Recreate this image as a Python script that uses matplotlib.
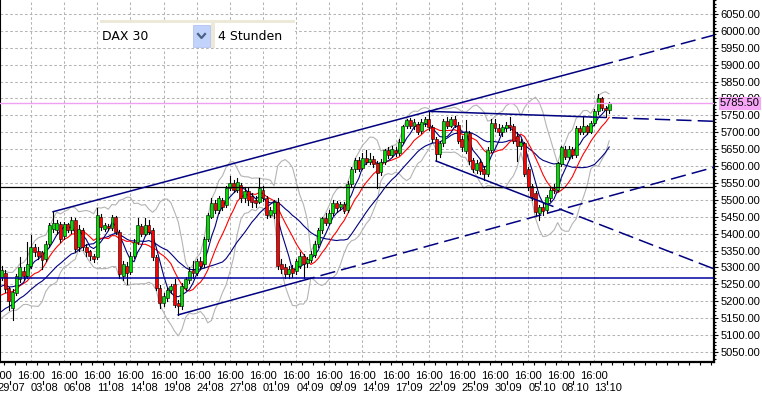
import numpy as np
import pandas as pd
import matplotlib
matplotlib.use('Agg')
import matplotlib.pyplot as plt
from matplotlib.patches import Rectangle

# DAX 30, 4h candles 29.07.2009 - 14.10.2009
opens = [5272, 5285, 5238, 5180, 5225, 5265, 5290, 5275, 5305, 5360,
         5350, 5345, 5325, 5368, 5415, 5410, 5430, 5392, 5428, 5410,
         5440, 5360, 5412, 5360, 5348, 5335, 5330, 5450, 5415, 5424,
         5418, 5448, 5405, 5275, 5305, 5288, 5335, 5375, 5422, 5400,
         5425, 5410, 5330, 5240, 5195, 5210, 5232, 5250, 5195, 5185,
         5240, 5262, 5292, 5285, 5318, 5310, 5385, 5450, 5490, 5470,
         5500, 5485, 5535, 5550, 5530, 5545, 5505, 5525, 5510, 5500,
         5495, 5530, 5505, 5455, 5460, 5495, 5310, 5300, 5280, 5298,
         5290, 5305, 5335, 5312, 5322, 5338, 5368, 5410, 5445, 5432,
         5462, 5490, 5478, 5488, 5470, 5548, 5590, 5618, 5595, 5625,
         5612, 5622, 5610, 5582, 5612, 5648, 5632, 5648, 5638, 5672,
         5718, 5735, 5718, 5725, 5705, 5728, 5738, 5715, 5680, 5635,
         5668, 5732, 5720, 5740, 5722, 5680, 5645, 5698, 5618, 5588,
         5612, 5590, 5578, 5648, 5728, 5712, 5700, 5712, 5722, 5718,
         5690, 5658, 5668, 5590, 5542, 5520, 5462, 5480, 5470, 5505,
         5535, 5530, 5605, 5650, 5628, 5650, 5632, 5712, 5700, 5718,
         5702, 5728, 5762, 5800, 5772, 5765]
highs = [5305, 5292, 5242, 5235, 5282, 5330, 5300, 5375, 5395, 5370,
         5360, 5350, 5378, 5432, 5465, 5440, 5435, 5435, 5432, 5448,
         5445, 5425, 5418, 5370, 5352, 5340, 5475, 5458, 5432, 5430,
         5455, 5452, 5410, 5318, 5315, 5345, 5385, 5445, 5430, 5445,
         5440, 5418, 5338, 5248, 5225, 5240, 5250, 5265, 5205, 5255,
         5272, 5300, 5318, 5325, 5330, 5390, 5462, 5505, 5500, 5510,
         5505, 5542, 5570, 5560, 5565, 5550, 5535, 5535, 5520, 5512,
         5565, 5540, 5510, 5480, 5500, 5505, 5325, 5310, 5305, 5308,
         5325, 5345, 5340, 5330, 5348, 5378, 5418, 5450, 5460, 5470,
         5500, 5498, 5495, 5495, 5555, 5598, 5625, 5628, 5640, 5648,
         5640, 5630, 5615, 5620, 5652, 5655, 5658, 5655, 5680, 5722,
         5740, 5742, 5738, 5730, 5738, 5745, 5762, 5722, 5685, 5675,
         5738, 5745, 5745, 5748, 5730, 5690, 5735, 5705, 5625, 5618,
         5620, 5600, 5655, 5738, 5738, 5725, 5722, 5730, 5745, 5725,
         5700, 5680, 5672, 5598, 5548, 5525, 5485, 5490, 5515, 5538,
         5548, 5612, 5660, 5660, 5658, 5655, 5718, 5720, 5745, 5722,
         5732, 5768, 5812, 5805, 5778, 5790]
lows = [5262, 5228, 5174, 5145, 5218, 5258, 5262, 5268, 5298, 5335,
        5325, 5295, 5320, 5362, 5405, 5400, 5375, 5385, 5405, 5402,
        5345, 5350, 5352, 5335, 5322, 5316, 5325, 5412, 5408, 5410,
        5412, 5398, 5270, 5262, 5250, 5282, 5328, 5370, 5392, 5395,
        5398, 5322, 5232, 5180, 5185, 5200, 5225, 5182, 5160, 5178,
        5232, 5255, 5270, 5278, 5295, 5300, 5378, 5445, 5462, 5462,
        5470, 5478, 5528, 5522, 5522, 5495, 5495, 5485, 5480, 5480,
        5490, 5498, 5445, 5448, 5445, 5295, 5285, 5270, 5270, 5272,
        5282, 5298, 5270, 5300, 5315, 5330, 5360, 5402, 5425, 5428,
        5455, 5465, 5470, 5460, 5465, 5540, 5582, 5585, 5590, 5605,
        5605, 5598, 5535, 5575, 5605, 5625, 5628, 5630, 5632, 5668,
        5712, 5712, 5710, 5695, 5698, 5720, 5708, 5672, 5615, 5628,
        5660, 5712, 5715, 5715, 5668, 5645, 5640, 5605, 5582, 5580,
        5578, 5560, 5572, 5642, 5705, 5692, 5690, 5705, 5708, 5668,
        5615, 5650, 5570, 5530, 5500, 5455, 5440, 5455, 5462, 5498,
        5520, 5525, 5600, 5620, 5620, 5625, 5628, 5695, 5695, 5695,
        5698, 5722, 5755, 5765, 5745, 5758]
closes = [5292, 5235, 5200, 5228, 5275, 5300, 5275, 5310, 5360, 5345,
          5335, 5322, 5370, 5425, 5432, 5432, 5385, 5428, 5412, 5440,
          5355, 5415, 5360, 5345, 5335, 5325, 5455, 5420, 5425, 5418,
          5448, 5405, 5280, 5310, 5285, 5335, 5375, 5425, 5400, 5425,
          5405, 5330, 5240, 5195, 5215, 5232, 5245, 5190, 5185, 5245,
          5265, 5290, 5285, 5318, 5305, 5385, 5455, 5490, 5470, 5505,
          5480, 5535, 5550, 5530, 5552, 5505, 5525, 5500, 5495, 5490,
          5535, 5505, 5455, 5470, 5495, 5305, 5295, 5280, 5295, 5285,
          5318, 5335, 5310, 5325, 5340, 5370, 5410, 5445, 5432, 5462,
          5492, 5475, 5488, 5468, 5548, 5592, 5618, 5592, 5625, 5612,
          5622, 5605, 5580, 5612, 5648, 5632, 5650, 5638, 5672, 5718,
          5735, 5720, 5730, 5702, 5730, 5738, 5715, 5680, 5635, 5668,
          5732, 5720, 5738, 5722, 5675, 5655, 5700, 5615, 5590, 5610,
          5585, 5578, 5648, 5728, 5712, 5700, 5715, 5722, 5715, 5675,
          5658, 5672, 5578, 5538, 5508, 5465, 5478, 5468, 5508, 5530,
          5528, 5608, 5655, 5628, 5650, 5632, 5712, 5700, 5718, 5702,
          5728, 5762, 5800, 5772, 5765, 5785.5]
# closes of the bars left of the visible window, only for the averages
pre_close = [5060, 5085, 5100, 5090, 5120, 5140, 5130, 5150, 5170, 5160,
             5185, 5175, 5200, 5215, 5190, 5210, 5235, 5225, 5260]

time_label = '16:00'
dates = ['29.07', '03.08', '06.08', '11.08', '14.08', '19.08', '24.08',
         '27.08', '01.09', '04.09', '09.09', '14.09', '17.09', '22.09',
         '25.09', '30.09', '05.10', '08.10', '13.10']
bid = 5785.5
hline_black = 5538
hline_blue = 5268
# trend lines: two anchors (bar, price), bar where the solid part stops
upper_ch = [(14, 5465), (116, 5762), 162]
lower_ch = [(48, 5160), (82, 5262), 81]
top_flat = [(116, 5762), (158, 5746), 160]
down_ch = [(118, 5615), (131, 5560), 146]

W, H = 762, 401
fig = plt.figure(figsize=(W/100, H/100), dpi=100)
fig.patch.set_facecolor('white')
ax = fig.add_axes([0, (H-362)/H, 714/W, 362/H])
n = len(closes)
t = np.arange(n)
xmin, xmax = -1.5/3.683, (714-1.5)/3.683
ax.set_xlim(xmin, xmax)
ax.set_ylim(5020.3, 6091.4)

# grid
grid_kw = dict(color='#b4b4b4', lw=0.75, dashes=(2.5, 2.2), zorder=0)
for v in range(5050, 6100, 50):
    ax.axhline(v, **grid_kw)
ticks = [9*k - 1 for k in range(len(dates))]
for x in ticks:
    ax.axvline(x, **grid_kw)

# indicators
allc = pd.Series(pre_close + closes, dtype=float)
n0 = len(pre_close)
ma5 = allc.rolling(5).mean().iloc[n0:].to_numpy()
ma10 = allc.rolling(10).mean().iloc[n0:].to_numpy()
ma20 = allc.rolling(20).mean().iloc[n0:].to_numpy()
sd10 = allc.rolling(10).std(ddof=0).iloc[n0:].to_numpy()
ax.plot(t, ma10 + 2*sd10, color='#b4b4b4', lw=0.8, zorder=3)
ax.plot(t, ma10 - 2*sd10, color='#b4b4b4', lw=0.8, zorder=3)
ax.plot(t, ma20, color='#000080', lw=0.8, zorder=4)
ax.plot(t, ma10, color='#ff0000', lw=0.8, zorder=4)
ax.plot(t, ma5, color='#000080', lw=0.8, zorder=4)

# candles
for i in range(n):
    o, h, l, c = opens[i], highs[i], lows[i], closes[i]
    ax.plot([i, i], [l, h], color='black', lw=0.8, zorder=5)
    col = '#00e000' if c >= o else '#ff0000'
    ax.add_patch(Rectangle((i-0.4, min(o, c)), 0.8, max(abs(c-o), 1.5),
                           facecolor=col, edgecolor='black', lw=0.4, zorder=6))

# horizontal lines
ax.axhline(hline_black, color='#000000', lw=0.9, zorder=7)
ax.axhline(hline_blue, color='#0000a0', lw=1.1, zorder=7)
ax.axhline(bid, color='#f0a0f0', lw=1.0, zorder=7)

# trend lines
def trend(line):
    (t1, p1), (t2, p2), tsol = line
    k = (p2 - p1) / (t2 - t1)
    ax.plot([t1, tsol], [p1, p1 + k*(tsol - t1)], color='#000080', lw=1.1, zorder=8)
    ax.plot([tsol, xmax], [p1 + k*(tsol - t1), p1 + k*(xmax - t1)], color='#000080',
            lw=1.1, dashes=(10, 4), zorder=8)

for line in [upper_ch, lower_ch, top_flat, down_ch]:
    trend(line)

# axes frame
ax.spines['top'].set_visible(False)
ax.spines['right'].set_linewidth(1.6)
ax.spines['bottom'].set_linewidth(1.6)
ax.spines['left'].set_linewidth(0.8)

font = 'Liberation Sans'
ax.yaxis.tick_right()
ax.set_yticks(range(5050, 6100, 50))
ax.set_yticklabels([f'{v:.2f}' for v in range(5050, 6100, 50)], fontsize=8, family=font)
ax.set_yticks(range(5030, 6100, 10), minor=True)
ax.tick_params(axis='y', which='major', length=3, width=0.8, pad=1.5)
ax.tick_params(axis='y', which='minor', length=1.5, width=0.8)
ax.set_xticks([])
ax.set_xticks([0.68 + 3*m for m in range(65)], minor=True)
ax.tick_params(axis='x', which='minor', length=2.2, width=0.8)

tr = ax.get_xaxis_transform()
for x, d in zip(ticks, dates):
    ax.text(x, -0.0387, time_label, transform=tr, ha='center', va='center',
            fontsize=8, family=font, clip_on=False)
    ax.text(x, -0.0718, d, transform=tr, ha='left', va='center',
            fontsize=8, family=font, clip_on=False)
    ax.plot([x + 3.3, x + 3.3], [-0.0525, -0.0610], transform=tr, color='black',
            lw=0.8, clip_on=False)

# bid price label
ax.text(1.0085, (bid - 5020.3)/(6091.4 - 5020.3), f'{bid:.2f}', transform=ax.transAxes,
        ha='left', va='center', fontsize=8, family=font, zorder=20, clip_on=False,
        bbox=dict(boxstyle='square,pad=0.12', facecolor='#f7a6f7', edgecolor='none'))

# symbol / period selector at top left
ov = fig.add_axes([0, 0, 1, 1], zorder=10)
ov.set_xlim(0, W)
ov.set_ylim(H, 0)
ov.axis('off')
ov.add_patch(Rectangle((100, 21), 195, 27, facecolor='white', edgecolor='none'))
ov.add_patch(Rectangle((100, 20), 195, 3, facecolor='#ece9d8', edgecolor='none'))
ov.add_patch(Rectangle((211, 20), 4, 28, facecolor='#ece9d8', edgecolor='none'))
ov.add_patch(Rectangle((193, 25), 17, 22, facecolor='#c1d3fb', edgecolor='#aabbee', lw=0.5))
ov.plot([198, 201.5, 205], [34, 38, 34], color='#4d6185', lw=1.6)
ov.text(102, 37, 'DAX 30', ha='left', va='center', fontsize=9, family='DejaVu Sans')
ov.text(218, 37, '4 Stunden', ha='left', va='center', fontsize=9, family='DejaVu Sans')

fig.savefig('out.png', dpi=100)
